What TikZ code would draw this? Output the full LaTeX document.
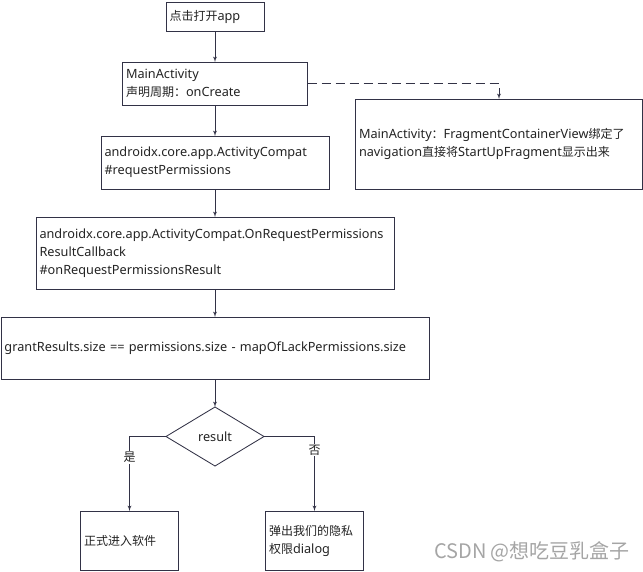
\documentclass[tikz,border=0pt]{standalone}
\usepackage{fontspec}
\setmainfont{Noto Sans}[Scale=1.06]
\newfontfamily\cjk{Noto Sans CJK SC}
\usetikzlibrary{arrows,shapes.geometric,positioning}
\definecolor{edgegray}{RGB}{50,50,70}
\definecolor{textgray}{RGB}{35,35,35}
\definecolor{markgray}{RGB}{165,165,165}

\begin{document}
\begin{tikzpicture}[->,>=latex',line width=0.85pt,draw=edgegray,node distance=28pt,font=\fontsize{12}{18}\selectfont]
	\tikzstyle{box}=[rectangle,draw=edgegray,text=textgray,align=left,inner xsep=3.5pt,inner ysep=0pt,outer sep=0pt]
	\tikzstyle{decision}=[diamond,draw=edgegray,text=textgray,aspect=1.66,minimum width=98pt,minimum height=59pt,inner sep=0pt,outer sep=0pt]

	\useasboundingbox (0,0) rectangle (643pt,-571pt);

	\node[box,text width=91pt,minimum height=29pt] (open) at (215pt,-16.5pt) {{\cjk 点击打开}app};
	\node[box,text width=178pt,minimum height=43pt] (main) [below=31pt of open] {MainActivity\\{\cjk 声明周期：}onCreate};
	\node[box,text width=221pt,minimum height=53pt] (request) [below=31pt of main] {androidx.core.app.ActivityCompat\\\#requestPermissions};
	\node[box,text width=280pt,minimum height=90pt] (fragment) [right=26.5pt of request.south east,anchor=south west] {MainActivity{\cjk ：}FragmentContainerView{\cjk 绑定了}\\navigation{\cjk 直接将}StartUpFragment{\cjk 显示出来}};
	\node[box,text width=351pt,minimum height=72pt] (callback) [below=of request] {androidx.core.app.ActivityCompat.OnRequestPermissions\\ResultCallback\\\#onRequestPermissionsResult};
	\node[box,text width=421pt,minimum height=62pt] (check) [below=of callback] {grantResults.size == permissions.size - mapOfLackPermissions.size};
	\node[decision] (result) [below=of check] {result};
	\node[box,text width=91pt,minimum height=59pt] (enter) [below=45pt of result,xshift=-85.5pt] {\cjk 正式进入软件};
	\node[box,text width=91pt,minimum height=59pt] (dialog) [below=45pt of result,xshift=99.5pt] {{\cjk 弹出我们的隐私}\\{\cjk 权限}dialog};

	\path (open) edge (main);
	\path (main) edge (request);
	\path (request) edge (callback);
	\path (callback) edge (check);
	\path (check) edge (result);
	\draw[dash pattern=on 9pt off 5pt] (main.east) -| (fragment.north);
	\draw (result.west) -| node[pos=0.64,fill=white,text=textgray,inner sep=1pt] {\cjk 是} (enter.north);
	\draw (result.east) -| node[pos=0.59,fill=white,text=textgray,inner sep=1pt] {\cjk 否} (dialog.north);

	\node[text=markgray,font=\fontsize{20}{24}\selectfont\cjk] (mark) at (532pt,-552pt) {CSDN @想吃豆乳盒子};
\end{tikzpicture}
\end{document}
